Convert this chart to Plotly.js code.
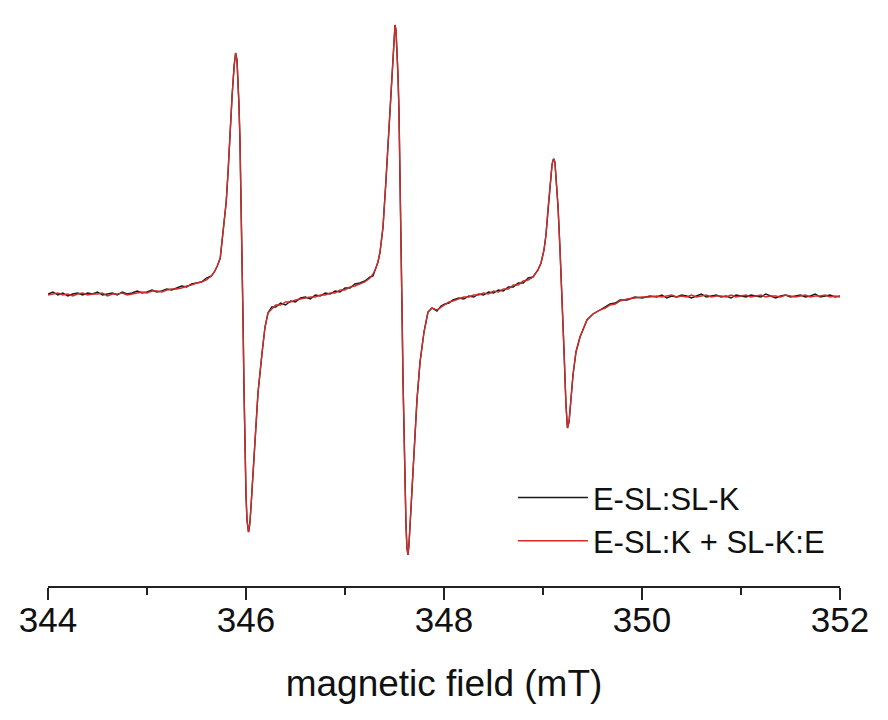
<!DOCTYPE html>
<html>
<head>
<meta charset="utf-8">
<script src="https://cdn.plot.ly/plotly-3.0.1.min.js"></script>
<style>
  html, body { margin: 0; padding: 0; background: #ffffff; }
  #chart { width: 888px; height: 720px; }
</style>
</head>
<body>
<div id="chart"></div>
<script>
// Magnetic field positions (mT)
const field = [
  344.00,344.05,344.10,344.15,344.20,344.25,344.30,344.35,344.40,344.45,344.50,344.55,344.60,344.65,344.70,344.75,344.80,344.85,344.90,344.95,345.00,345.05,345.10,345.15,345.20,345.25,345.30,345.35,345.40,345.45,345.50,
  345.55,345.60,345.65,345.68,345.71,345.74,345.77,345.80,345.82,345.84,345.86,345.88,345.895,345.909,345.919,345.929,345.939,345.949,345.960,345.970,345.980,345.990,346.000,346.010,346.020,346.025,346.030,346.040,346.051,346.061,346.071,346.091,346.121,346.162,346.192,346.222,346.26,346.30,346.35,346.40,346.45,346.50,346.55,
  346.60,346.65,346.70,346.75,346.80,346.85,346.90,346.95,347.00,347.05,347.10,347.15,347.20,
  347.253,347.283,347.313,347.333,347.354,347.384,347.414,347.434,347.455,347.475,347.495,347.505,347.515,347.525,347.535,347.545,347.556,347.566,347.576,347.586,347.596,347.606,347.616,347.626,347.636,347.646,347.657,347.667,347.687,347.707,347.727,347.758,347.798,347.838,347.879,347.929,347.97,348.01,348.05,348.09,
  348.15,348.20,348.25,348.30,348.35,348.40,348.45,348.50,348.55,348.60,348.65,348.70,348.75,348.80,348.85,
  348.899,348.949,348.980,349.010,349.030,349.051,349.071,349.091,349.101,349.111,349.121,349.131,349.152,349.172,349.192,349.212,349.232,349.247,349.263,349.283,349.303,349.333,349.374,349.444,349.505,349.576,349.63,349.677,349.73,349.778,349.85,349.929,350.00,350.081,
  350.15,350.20,350.25,350.30,350.35,350.40,350.45,350.50,350.55,350.60,350.65,350.70,350.75,350.80,350.85,350.90,350.95,351.00,351.05,351.10,351.15,351.20,351.25,351.30,351.35,351.40,351.45,351.50,351.55,351.60,351.65,351.70,351.75,351.80,351.85,351.90,351.95,352.00
];

// EPR signal, E-SL:SL-K (black), arbitrary units
const signalBlack = [
  1,3,0,2,-1,1,2,0,2,1,3,0,1,2,0,3,1,2,4,2,3,5,3,4,6,5,7,9,8,11,12,
  13,17,19,23,29,37,65,93,125,167,200,229,242,235,217,190,155,105,45,-25,-95,-155,-200,-225,-236,-237,-235,-227,-211,-195,-175,-145,-98,-58,-32,-18,-12,-12,-8,-10,-6,-7,-3,
  -2,-4,0,-1,2,1,4,3,7,7,11,12,14,
  18,19,27,33,43,68,115,152,185,218,255,270,265,247,220,185,125,55,-15,-85,-145,-195,-230,-253,-260,-250,-230,-210,-167,-133,-105,-67,-37,-17,-13,-16,-11,-9,-8,-5,
  -3,-4,-1,-2,1,0,3,2,5,4,8,8,12,12,17,
  18,25,32,45,60,87,112,130,135,136,132,120,88,45,0,-55,-110,-133,-127,-105,-80,-57,-42,-25,-19,-15,-12,-9,-8,-5,-5,-2,-3,-1,
  -2,0,-3,-1,-2,0,-1,-3,-1,1,-2,-1,0,-2,-1,-3,0,-1,-2,0,-1,-2,1,-1,-3,-1,0,-2,-1,0,-2,-1,1,-2,-1,0,-2,-1
];

// EPR signal, E-SL:K + SL-K:E (red), arbitrary units
const signalRed = [
  0,1,2,0,1,-1,1,2,0,1,1,2,-1,1,1,2,0,1,2,3,2,4,4,3,5,6,6,7,9,10,12,
  13,15,19,23,29,37,65,93,125,167,200,229,242,235,217,190,155,105,45,-25,-95,-155,-200,-225,-236,-237,-235,-227,-211,-195,-175,-145,-98,-58,-32,-18,-14,-10,-10,-7,-7,-5,-4,
  -3,-2,-2,0,0,2,2,5,5,8,9,11,13,
  17,21,27,33,43,68,115,152,185,218,255,270,265,247,220,185,125,55,-15,-85,-145,-195,-230,-253,-260,-250,-230,-210,-167,-133,-105,-67,-37,-17,-13,-15,-12,-10,-7,-6,
  -4,-2,-2,0,0,2,1,4,3,6,6,10,10,14,15,
  18,25,32,45,60,87,112,130,135,136,132,120,88,45,0,-55,-110,-133,-127,-105,-80,-57,-42,-25,-19,-15,-13,-10,-9,-6,-4,-3,-2,-2,
  -1,-2,-1,0,-2,-1,-2,0,-2,-1,0,-2,-1,-1,-2,0,-2,-1,0,-2,-1,0,-2,-1,-1,-2,0,-1,-2,-1,0,-2,-1,-1,0,-2,-1,-2
];

const seriesNames = ['E-SL:SL-K', 'E-SL:K + SL-K:E'];
const xTitle = 'magnetic field (mT)';

const FONT = 'Liberation Sans, Arial, Helvetica, sans-serif';

const traces = [
  { x: field, y: signalBlack, type: 'scatter', mode: 'lines', name: seriesNames[0],
    line: { color: '#1a1a1a', width: 1.4 } },
  { x: field, y: signalRed, type: 'scatter', mode: 'lines', name: seriesNames[1],
    line: { color: '#d02c2c', width: 1.4 } }
];

const layout = {
  width: 888, height: 720,
  margin: { l: 48, r: 48, t: 10, b: 134 },
  paper_bgcolor: '#ffffff', plot_bgcolor: '#ffffff',
  font: { family: FONT, color: '#111111' },
  showlegend: true,
  legend: {
    x: 0.587, y: 0.20, xanchor: 'left', yanchor: 'top',
    bgcolor: 'rgba(0,0,0,0)', borderwidth: 0,
    itemwidth: 70,
    font: { family: FONT, size: 31, color: '#111111' },
    traceorder: 'normal'
  },
  xaxis: {
    range: [344, 352], tick0: 344, dtick: 2,
    ticks: 'outside', ticklen: 12, tickwidth: 1.5, tickcolor: '#222222',
    ticklabelstandoff: -10,
    showline: true, linecolor: '#222222', linewidth: 2,
    showgrid: false, zeroline: false,
    tickfont: { family: FONT, size: 35, color: '#111111' },
    minor: { dtick: 1, ticks: 'outside', ticklen: 7, tickwidth: 1.5, tickcolor: '#222222', showgrid: false },
    title: { text: xTitle, font: { family: FONT, size: 37, color: '#111111' }, standoff: 32 }
  },
  yaxis: {
    range: [-291, 285], visible: false, showgrid: false, zeroline: false, fixedrange: true
  }
};

Plotly.newPlot('chart', traces, layout, { staticPlot: true, displayModeBar: false });
</script>
</body>
</html>
